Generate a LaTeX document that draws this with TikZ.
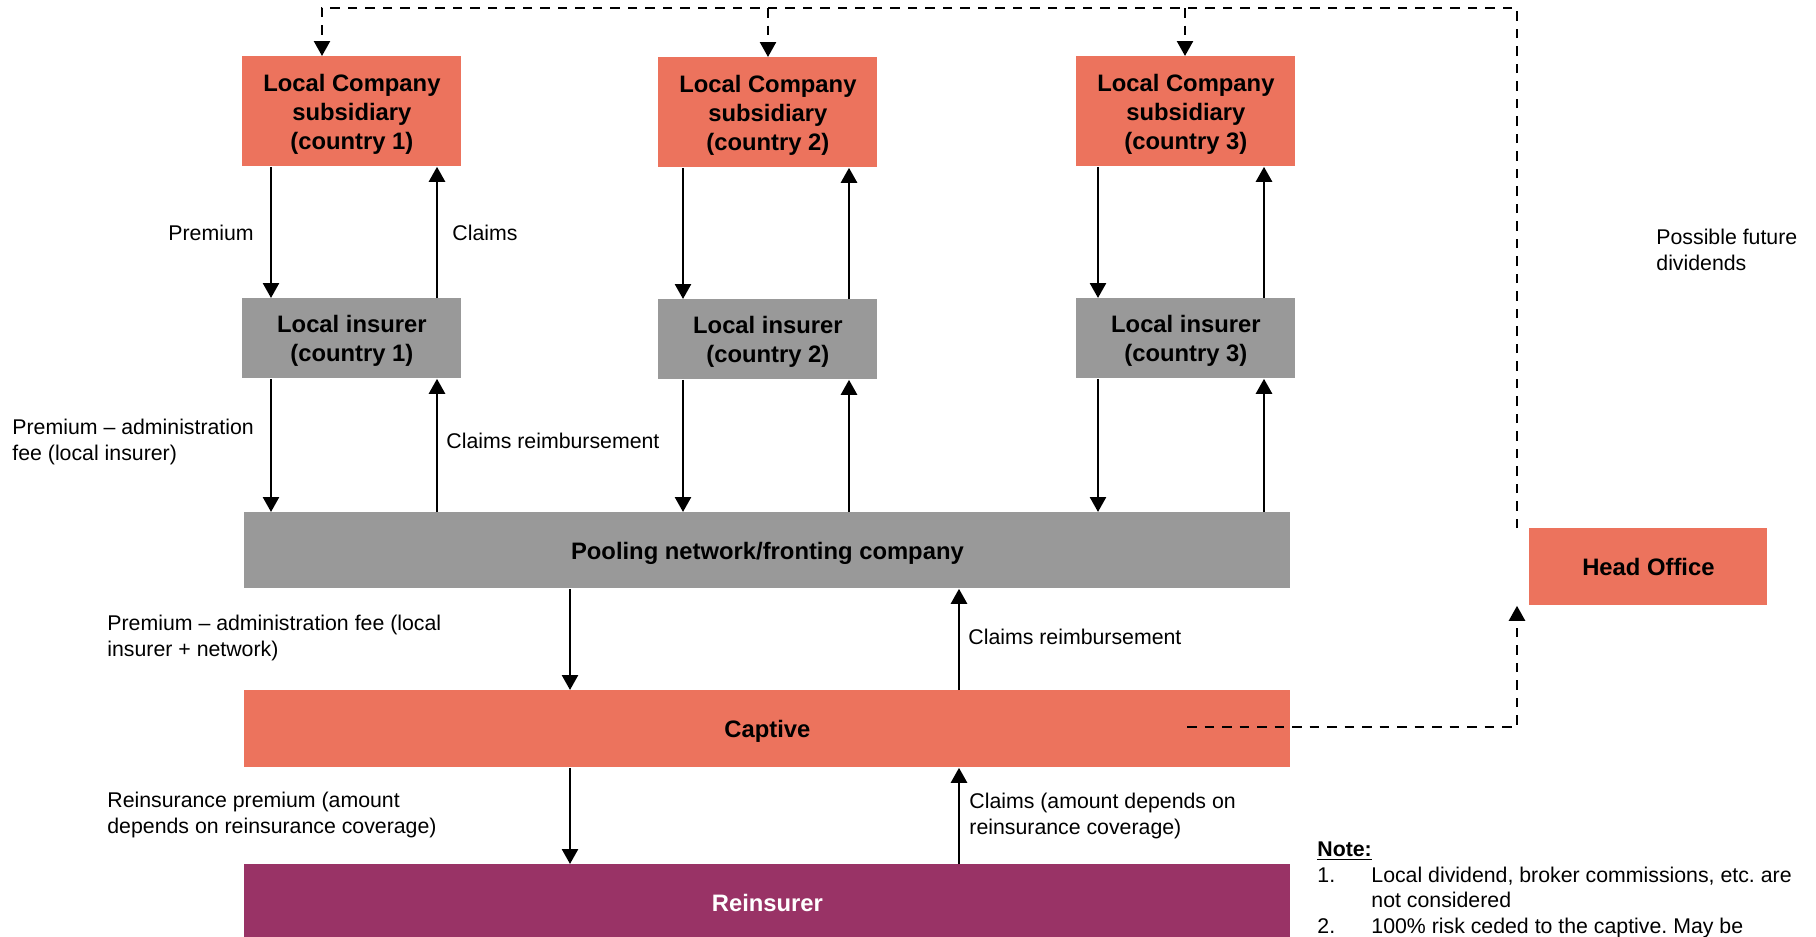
\documentclass[tikz,border=0pt]{standalone}
\usepackage{fontspec}
\setmainfont{Liberation Sans}
\usetikzlibrary{arrows.meta}
\definecolor{salmon}{HTML}{EC735D}
\definecolor{boxgray}{HTML}{999999}
\definecolor{plum}{HTML}{993366}
\begin{document}
\frenchspacing
\begin{tikzpicture}[x=0.5pt,y=-0.5pt,
  box/.style={draw=none, inner sep=0pt, anchor=north west, align=center, text depth=0pt, font=\bfseries\fontsize{11.9}{14.5}\selectfont},
  subbox/.style={box, fill=salmon, minimum width=109.5pt, minimum height=55pt},
  insbox/.style={box, fill=boxgray, minimum width=109.5pt, minimum height=40pt},
  widebox/.style={box, minimum width=523pt, minimum height=38pt},
  lbl/.style={inner sep=0pt, align=left, text depth=0pt, font=\fontsize{10.65}{12.75}\selectfont},
  arr/.style={line width=1.3pt, -{Triangle[length=7.5pt,width=8pt]}},
  darr/.style={line width=1.2pt, dash pattern=on 4.75pt off 4pt, -{Triangle[length=7.5pt,width=8pt]}}
]
\useasboundingbox (0,0) rectangle (1816,937);

% boxes
\node[subbox] (sub1) at (242,56) {Local Company\\subsidiary\\(country 1)};
\node[subbox] (sub2) at (658,57) {Local Company\\subsidiary\\(country 2)};
\node[subbox] (sub3) at (1076,56) {Local Company\\subsidiary\\(country 3)};
\node[insbox] (ins1) at (242,298) {Local insurer\\(country 1)};
\node[insbox] (ins2) at (658,299) {Local insurer\\(country 2)};
\node[insbox] (ins3) at (1076,298) {Local insurer\\(country 3)};
\node[widebox, fill=boxgray] (pool) at (244,512) {Pooling network/fronting company};
\node[widebox, fill=salmon, minimum height=38.5pt] (cap) at (244,690) {Captive};
\node[widebox, fill=plum, text=white] (reins) at (244,864) {Reinsurer};
\node[box, fill=salmon, minimum width=119pt, minimum height=38.5pt] (head) at (1529,528) {Head Office};

% arrow columns
\coordinate (a1) at (271,0);
\coordinate (b1) at (437,0);
\coordinate (a2) at (683,0);
\coordinate (b2) at (849,0);
\coordinate (a3) at (1098,0);
\coordinate (b3) at (1264,0);
\coordinate (pa) at (570,0);
\coordinate (pb) at (959,0);

\foreach \i in {1,2,3}{
  \draw[arr] (sub\i.south -| a\i) -- (ins\i.north -| a\i);
  \draw[arr] (ins\i.north -| b\i) -- (sub\i.south -| b\i);
  \draw[arr] (ins\i.south -| a\i) -- (pool.north -| a\i);
  \draw[arr] (pool.north -| b\i) -- (ins\i.south -| b\i);
}
\draw[arr] (pool.south -| pa) -- (cap.north -| pa);
\draw[arr] (cap.north -| pb) -- (pool.south -| pb);
\draw[arr] (cap.south -| pa) -- (reins.north -| pa);
\draw[arr] (reins.north -| pb) -- (cap.south -| pb);

% dashed dividend lines
\coordinate (tl) at (322,8);
\coordinate (t2) at (768,8);
\coordinate (t3) at (1185,8);
\coordinate (cs) at (1187,727);
\draw[darr] ([xshift=-6pt]head.north west) |- (tl) -- (sub1.north -| tl);
\draw[darr] (t2) -- (sub2.north -| t2);
\draw[darr] (t3) -- (sub3.north -| t3);
\draw[darr] (cs) -| ([xshift=-6pt]head.south west);

% labels
\node[lbl, anchor=east] (lp1) at (254,233) {Premium};
\node[lbl, anchor=west] (lc1) at (452,233) {Claims};
\node[lbl, anchor=west] (lp2) at (12,440) {Premium – administration\\fee (local insurer)};
\node[lbl, anchor=west] (lc2) at (446,441) {Claims reimbursement};
\node[lbl, anchor=west] (lp3) at (107,636) {Premium – administration fee (local\\insurer + network)};
\node[lbl, anchor=west] (lc3) at (968,637) {Claims reimbursement};
\node[lbl, anchor=west] (lp4) at (107,813) {Reinsurance premium (amount\\depends on reinsurance coverage)};
\node[lbl, anchor=west] (lc4) at (969,814) {Claims (amount depends on\\reinsurance coverage)};
\node[lbl, anchor=west] (div) at (1656,250) {Possible future\\dividends};

% note
\node[lbl, anchor=west, font=\bfseries\fontsize{10.65}{12.75}\selectfont] (note) at (1317,849) {\underline{Note:}};
\node[inner sep=0pt, anchor=north west, font=\fontsize{10.65}{12.75}\selectfont] (items) at (1317,864) {\begin{tabular}{@{}p{27pt}@{}l@{}}
1. & Local dividend, broker commissions, etc. are\\
 & not considered\\
2. & 100\% risk ceded to the captive. May be
\end{tabular}};
\end{tikzpicture}
\end{document}
